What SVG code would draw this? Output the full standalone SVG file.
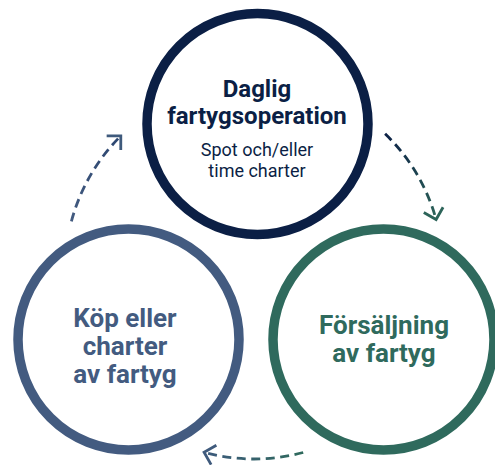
<svg xmlns="http://www.w3.org/2000/svg" width="495" height="465" viewBox="0 0 495 465">
<style>
  .ring{fill:#ffffff;stroke-width:9.5}
  .t{font-family:Roboto,"Liberation Sans",sans-serif;text-anchor:middle}
  .b{font-weight:700;font-size:24px}
  .bb{font-weight:700;font-size:26px}
  .r{font-weight:400;font-size:18px}
  .arc{fill:none;stroke-width:2.8;stroke-dasharray:9 5.5}
</style>
<defs>
  <marker id="hGreen" markerUnits="userSpaceOnUse" markerWidth="30" markerHeight="30" viewBox="-15 -15 30 30" refX="0" refY="0" orient="auto" overflow="visible">
    <path d="M-10,-10 L0,0 L-10,10" fill="none" stroke="#2d6459" stroke-width="2.8"/>
  </marker>
  <marker id="hBlue" markerUnits="userSpaceOnUse" markerWidth="30" markerHeight="30" viewBox="-15 -15 30 30" refX="0" refY="0" orient="auto" overflow="visible">
    <path d="M-10,-10 L0,0 L-10,10" fill="none" stroke="#3f5a7c" stroke-width="2.8"/>
  </marker>
  <linearGradient id="g1" gradientUnits="userSpaceOnUse" x1="71" y1="221" x2="121" y2="136">
    <stop offset="0" stop-color="#435b80"/><stop offset="1" stop-color="#2c4670"/>
  </linearGradient>
  <linearGradient id="g2" gradientUnits="userSpaceOnUse" x1="385" y1="134" x2="436" y2="219">
    <stop offset="0" stop-color="#0c2146"/><stop offset="1" stop-color="#2d6459"/>
  </linearGradient>
  <linearGradient id="g3" gradientUnits="userSpaceOnUse" x1="303" y1="452" x2="204" y2="452">
    <stop offset="0" stop-color="#2f6a5d"/><stop offset="1" stop-color="#3d5a7c"/>
  </linearGradient>
</defs>

<g id="connectors">
  <path class="arc" d="M71.4,221.4 A189,189 0 0 1 120.8,135.9" stroke="url(#g1)" marker-end="url(#hBlue)"/>
  <path class="arc" d="M385.1,133.8 A189,189 0 0 1 436.1,219.5" stroke="url(#g2)" marker-end="url(#hGreen)"/>
  <path class="arc" d="M303.2,452.5 A189,189 0 0 1 204.1,452.3" stroke="url(#g3)" marker-end="url(#hBlue)"/>
</g>

<g id="node-daglig">
  <circle class="ring" cx="257.5" cy="124" r="110.5" stroke="#0b1f45"/>
  <text class="t b" x="257" y="97" fill="#0b1f45">Daglig</text>
  <text class="t b" x="257" y="124" fill="#0b1f45">fartygsoperation</text>
  <text class="t r" x="257" y="156" fill="#0b1f45">Spot och/eller</text>
  <text class="t r" x="257" y="177" fill="#0b1f45">time charter</text>
</g>

<g id="node-kop">
  <circle class="ring" cx="128.5" cy="339.5" r="110.5" stroke="#435b80"/>
  <text class="t bb" x="125" y="327" fill="#435b80">Köp eller</text>
  <text class="t bb" x="125" y="355" fill="#435b80">charter</text>
  <text class="t bb" x="125" y="383" fill="#435b80">av fartyg</text>
</g>

<g id="node-forsaljning">
  <circle class="ring" cx="383.5" cy="339.5" r="110.5" stroke="#2f6a5d"/>
  <text class="t bb" x="384" y="334" fill="#2f6a5d">Försäljning</text>
  <text class="t bb" x="384" y="362" fill="#2f6a5d">av fartyg</text>
</g>
</svg>
